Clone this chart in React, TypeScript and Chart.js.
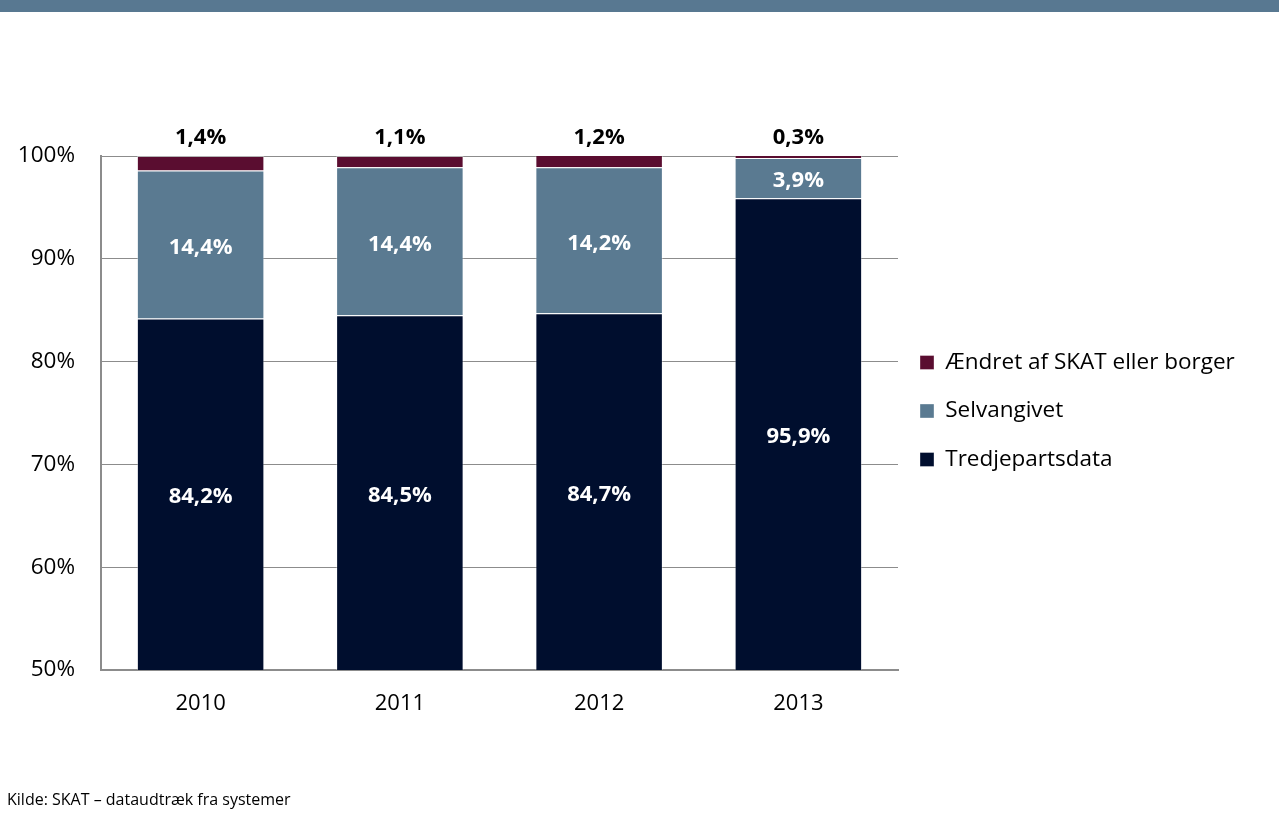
import React, { useEffect, useRef } from "react";
import { Chart, registerables } from "chart.js";

Chart.register(...registerables);

const categories = ["2010", "2011", "2012", "2013"];
const tredjepartsdata = [84.2, 84.5, 84.7, 95.9];
const selvangivet = [14.4, 14.4, 14.2, 3.9];
const aendret = [1.4, 1.1, 1.2, 0.3];
const seriesNames = ["Tredjepartsdata", "Selvangivet", "Ændret af SKAT eller borger"];
const seriesColors = ["#000E2E", "#5A7A91", "#5A0D30"];
const sourceText = "Kilde: SKAT – dataudtræk fra systemer";

const FONT = "'Open Sans', Lato, sans-serif";

const fmt = (v: number) => v.toFixed(1).replace(".", ",") + "%";

const labelPlugin = {
  id: "segLabels",
  afterDatasetsDraw(chart: any) {
    const { ctx, chartArea } = chart;
    ctx.save();
    ctx.textAlign = "center";
    ctx.textBaseline = "middle";
    ctx.font = `bold 22px ${FONT}`;
    chart.data.datasets.forEach((ds: any, di: number) => {
      const meta = chart.getDatasetMeta(di);
      meta.data.forEach((el: any, i: number) => {
        const v = ds.data[i];
        if (di === 2) {
          ctx.fillStyle = "#000";
          ctx.fillText(fmt(v), el.x, chartArea.top - 18);
        } else {
          const top = Math.max(el.y, chartArea.top);
          const bot = Math.min(el.base, chartArea.bottom);
          ctx.fillStyle = "#fff";
          ctx.fillText(fmt(v), el.x, (top + bot) / 2 + 3);
        }
      });
    });
    ctx.restore();
  },
};

const legendWidthPlugin = {
  id: "legendWidth",
  beforeLayout(chart: any) {
    const lg = chart.legend;
    if (lg && !lg.__patched) {
      const orig = lg.fit.bind(lg);
      lg.fit = () => {
        orig();
        lg.width = 381;
      };
      lg.__patched = true;
    }
  },
  afterLayout(chart: any) {
    const lg = chart.legend;
    if (lg) {
      lg.left -= 4;
      lg.right -= 4;
      lg.top -= 2;
      lg.bottom -= 2;
    }
  },
};

export default function App() {
  const ref = useRef<HTMLCanvasElement>(null);
  useEffect(() => {
    if (!ref.current) return;
    const chart = new Chart(ref.current, {
      type: "bar",
      data: {
        labels: categories,
        datasets: [
          { label: seriesNames[0], data: tredjepartsdata, backgroundColor: seriesColors[0] },
          { label: seriesNames[1], data: selvangivet, backgroundColor: seriesColors[1] },
          { label: seriesNames[2], data: aendret, backgroundColor: seriesColors[2] },
        ].map((d) => ({
          ...d,
          borderColor: "rgba(255,255,255,0.35)",
          borderWidth: 1,
          barPercentage: 0.64,
          categoryPercentage: 1,
        })),
      },
      options: {
        animation: false,
        responsive: false,
        maintainAspectRatio: false,
        layout: { padding: { top: 156, bottom: 93, left: 0, right: 0 } },
        plugins: {
          legend: {
            position: "right",
            fullSize: false,
            reverse: true,
            labels: {
              boxWidth: 14,
              boxHeight: 14,
              padding: 26,
              color: "#000",
              font: { family: FONT, size: 22.5 },
            },
          },
          tooltip: { enabled: false },
        },
        scales: {
          x: {
            stacked: true,
            grid: { display: false, drawTicks: false },
            border: { display: true, color: "#8C8C8C", width: 2 },
            ticks: { color: "#000", padding: 21, font: { family: FONT, size: 22 } },
            afterFit: (s: any) => {
              s.height = 60;
            },
          },
          y: {
            stacked: true,
            min: 50,
            max: 100,
            ticks: {
              stepSize: 10,
              color: "#000",
              padding: 26,
              font: { family: FONT, size: 22.5 },
              callback: (v: any) => v + "%",
            },
            grid: { color: "#8C8C8C", lineWidth: 1, drawTicks: false },
            border: { display: true, color: "#8C8C8C", width: 2 },
            afterFit: (s: any) => {
              s.width = 101;
            },
          },
        },
      },
      plugins: [labelPlugin, legendWidthPlugin],
    });
    return () => chart.destroy();
  }, []);

  return (
    <div style={{ position: "fixed", left: 0, top: 0, width: 1279, height: 823, background: "#fff", overflow: "hidden" }}>
      <canvas ref={ref} width={1279} height={823} style={{ position: "absolute", left: 0, top: 0, width: 1279, height: 823 }} />
      <div style={{ position: "absolute", left: 0, top: 0, width: 1279, height: 12, background: "#587891" }} />
      <div style={{ position: "absolute", left: 7, top: 789, fontFamily: FONT, fontSize: 16, lineHeight: "20px", color: "#000" }}>
        {sourceText}
      </div>
    </div>
  );
}
